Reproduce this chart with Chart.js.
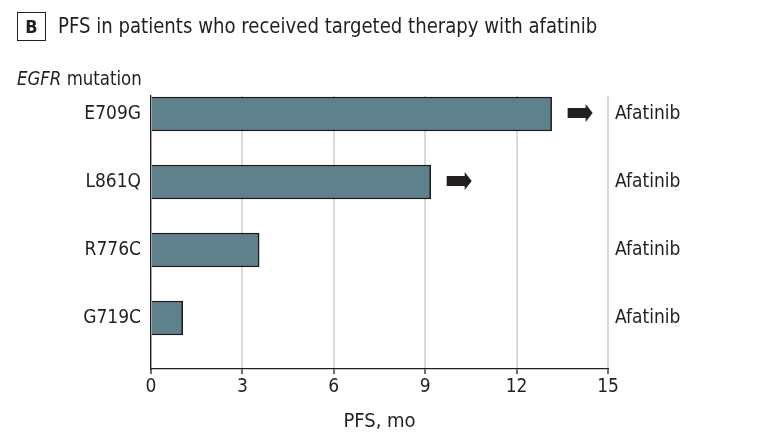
<!DOCTYPE html>
<html>
<head>
<meta charset="utf-8">
<script src="https://cdn.jsdelivr.net/npm/chart.js@4"></script>
<style>
  body { margin: 0; background: #fff; }
  #wrap { position: relative; width: 757px; height: 448px; font-family: "DejaVu Sans Condensed", sans-serif; color: #231f20; }
  #box { position: absolute; left: 17px; top: 12px; width: 27px; height: 27px; border: 1.5px solid #231f20; font-weight: bold; font-size: 18px; text-align: center; line-height: 27px; }
  #title { position: absolute; left: 58px; top: 12px; font-size: 22px; line-height: 28px; white-space: nowrap; transform: scaleX(0.915); transform-origin: 0 50%; }
  #sub { position: absolute; left: 17px; top: 66px; font-size: 19px; line-height: 24px; transform: scaleX(0.97); transform-origin: 0 50%; }
  canvas { position: absolute; left: 0; top: 0; }
</style>
</head>
<body>
<div id="wrap">
  <canvas id="canvas" width="757" height="448"></canvas>
  <div id="box">B</div>
  <div id="title">PFS in patients who received targeted therapy with afatinib</div>
  <div id="sub"><i>EGFR</i> mutation</div>
</div>
<script>
// data
var mutations = ["E709G", "L861Q", "R776C", "G719C"];
var therapy = ["Afatinib", "Afatinib", "Afatinib", "Afatinib"];
var pfs = [13.15, 9.18, 3.55, 1.04];
var ongoing = [true, true, false, false];
var xTicks = [0, 3, 6, 9, 12, 15];

var FONT = "'DejaVu Sans Condensed', sans-serif";
var INK = "#231f20";

var points = [];
for (var i = 0; i < pfs.length; i++) {
    points.push({ x: pfs[i], y: i });
}

// arrow after the bar when patient still on therapy
var arrowPlugin = {
    id: "arrows",
    afterDatasetsDraw: function(chart) {
        var ctx = chart.ctx;
        var xs = chart.scales.x, ys = chart.scales.y;
        ctx.save();
        ctx.fillStyle = INK;
        for (var i = 0; i < pfs.length; i++) {
            if (!ongoing[i]) continue;
            var x0 = xs.getPixelForValue(pfs[i]) + 16;
            var yc = ys.getPixelForValue(i) - 1;
            ctx.beginPath();
            ctx.moveTo(x0, yc - 5);
            ctx.lineTo(x0 + 18, yc - 5);
            ctx.lineTo(x0 + 18, yc - 9);
            ctx.lineTo(x0 + 25, yc);
            ctx.lineTo(x0 + 18, yc + 9);
            ctx.lineTo(x0 + 18, yc + 5);
            ctx.lineTo(x0, yc + 5);
            ctx.closePath();
            ctx.fill();
        }
        ctx.restore();
    }
};

var rowTicks = function(axis) {
    axis.ticks = mutations.map(function(m, i) { return { value: i }; });
};

new Chart(document.getElementById("canvas").getContext("2d"), {
    type: "bar",
    data: {
        datasets: [{
            data: points,
            backgroundColor: "#5f818b",
            borderColor: "#1a1a1a",
            borderWidth: 1.5,
            barThickness: 34
        }]
    },
    options: {
        indexAxis: "y",
        responsive: false,
        animation: false,
        layout: { padding: { top: 96, left: 0, right: 0, bottom: 0 } },
        plugins: { legend: { display: false }, tooltip: { enabled: false } },
        scales: {
            x: {
                type: "linear",
                min: 0, max: 15,
                afterBuildTicks: function(axis) {
                    axis.ticks = xTicks.map(function(v) { return { value: v }; });
                },
                afterFit: function(s) { s.height = 79; },
                grid: { color: "#d9d9d9", lineWidth: 2, tickColor: INK, tickLength: 5, tickWidth: 1.3 },
                border: { color: INK, width: 1.3 },
                ticks: { color: INK, font: { family: FONT, size: 19 }, padding: 2 },
                title: { display: true, text: "PFS, mo", color: INK, font: { family: FONT, size: 20 }, padding: { top: 0, bottom: 14 } }
            },
            y: {
                type: "linear",
                offset: false,
                reverse: true,
                min: -0.265, max: 3.75,
                afterBuildTicks: rowTicks,
                afterFit: function(s) { s.width = 151; },
                grid: { display: false, drawTicks: false },
                border: { color: INK, width: 1.3 },
                ticks: {
                    color: INK, font: { family: FONT, size: 19 }, padding: 10,
                    callback: function(v) { return mutations[v]; }
                }
            },
            y2: {
                type: "linear",
                offset: false,
                position: "right",
                reverse: true,
                min: -0.265, max: 3.75,
                afterBuildTicks: rowTicks,
                afterFit: function(s) { s.width = 149; },
                grid: { display: false, drawTicks: false },
                border: { display: false },
                ticks: {
                    color: INK, font: { family: FONT, size: 19 }, padding: 7,
                    callback: function(v) { return therapy[v]; }
                }
            }
        }
    },
    plugins: [arrowPlugin]
});
</script>
</body>
</html>
